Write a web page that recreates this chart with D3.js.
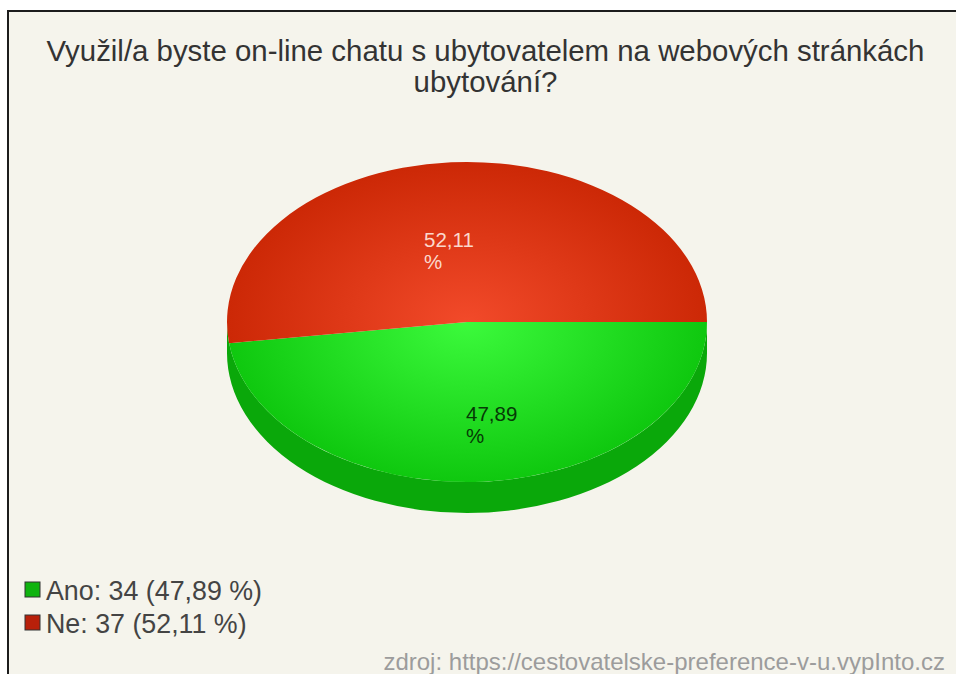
<!DOCTYPE html>
<html>
<head>
<meta charset="utf-8">
<script src="https://cdn.jsdelivr.net/npm/d3@7"></script>
<style>
html,body{margin:0;padding:0;background:#fff;}
svg{display:block;}
text{font-family:"Liberation Sans",Arial,sans-serif;}
</style>
</head>
<body>
<svg id="chart" width="956" height="674"></svg>
<script>
const titleLines = ["Využil/a byste on-line chatu s ubytovatelem na webových stránkách", "ubytování?"];
const categories = ["Ano", "Ne"];
const counts = [34, 37];
const percents = ["47,89", "52,11"];
const centerColors = ["#3cfa3c", "#f24a2a"];
const edgeColors = ["#0fc80f", "#cc2806"];
const labelColors = ["#063a06", "#fbd8cc"];
const legendColors = ["#0fb30f", "#b8200a"];
const wallColor = "#0aa80a";
const sourceText = "zdroj: https://cestovatelske-preference-v-u.vypInto.cz";

const svg = d3.select("#chart");
const cx = 467, cy = 322, rx = 240, ry = 160, depth = 31;

// Panel with a dark edge along the top and left only
svg.append("rect").attr("x", 8).attr("y", 11).attr("width", 948).attr("height", 663).attr("fill", "#f5f4ec");
svg.append("path").attr("d", "M8,674V11H956").attr("fill", "none").attr("stroke", "#1c1c1c").attr("stroke-width", 2);

// Title
svg.append("g").selectAll("text").data(titleLines).join("text")
  .attr("x", 485.5).attr("y", (d, i) => 61 + i * 31)
  .attr("text-anchor", "middle").attr("font-size", 29.4).attr("fill", "#333")
  .text(d => d);

// Slices run clockwise from three o'clock, as d3.pie angles measured from twelve
const slices = d3.pie().sort(null).startAngle(Math.PI / 2).endAngle(Math.PI * 2.5)(counts);
const arc = d3.arc().innerRadius(0).outerRadius(rx);

const defs = svg.append("defs");
categories.forEach((c, i) => {
  const g = defs.append("radialGradient").attr("id", "top" + i)
    .attr("gradientUnits", "userSpaceOnUse").attr("cx", 0).attr("cy", 0).attr("r", rx);
  g.append("stop").attr("offset", 0).attr("stop-color", centerColors[i]);
  g.append("stop").attr("offset", 1).attr("stop-color", edgeColors[i]);
});

// Side wall across the whole front half of the ellipse
svg.append("path")
  .attr("fill", wallColor)
  .attr("d", `M${cx + rx},${cy}A${rx},${ry} 0 0 1 ${cx - rx},${cy}L${cx - rx},${cy + depth}A${rx},${ry} 0 0 0 ${cx + rx},${cy + depth}Z`);

// Top face: circular arcs flattened into an ellipse
svg.append("g")
  .attr("transform", `translate(${cx},${cy}) scale(1,${ry / rx})`)
  .selectAll("path").data(slices).join("path")
  .attr("d", arc)
  .attr("fill", (d, i) => `url(#top${i})`);

// Value labels, broken over two lines
const labelPos = [[466, 421], [424, 247]];
categories.forEach((c, i) => {
  const t = svg.append("g").attr("fill", labelColors[i]).attr("font-size", 20.5);
  t.append("text").attr("x", labelPos[i][0]).attr("y", labelPos[i][1]).text(percents[i]);
  t.append("text").attr("x", labelPos[i][0]).attr("y", labelPos[i][1] + 22).text("%");
});

// Legend
const legend = svg.append("g").selectAll("g").data(categories).join("g")
  .attr("transform", (d, i) => `translate(25,${582 + i * 33})`);
legend.append("rect").attr("width", 15).attr("height", 15)
  .attr("fill", (d, i) => legendColors[i]).attr("stroke", "#333").attr("stroke-width", 1);
legend.append("text").attr("x", 21).attr("y", 18)
  .attr("font-size", 26.8).attr("fill", "#444")
  .text((d, i) => `${d}: ${counts[i]} (${percents[i]} %)`);

// Source line
svg.append("text").attr("x", 945).attr("y", 669.5).attr("text-anchor", "end")
  .attr("font-size", 24).attr("fill", "#9c9c9c").text(sourceText);
</script>
</body>
</html>
